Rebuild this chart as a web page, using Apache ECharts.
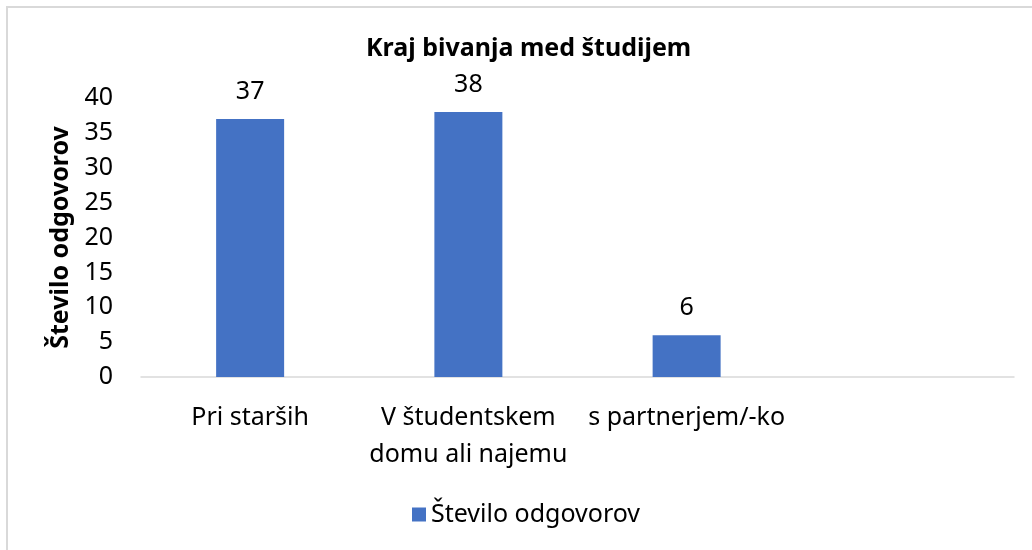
<!DOCTYPE html>
<html><head><meta charset="utf-8">
<script src="https://cdn.jsdelivr.net/npm/echarts@6/dist/echarts.min.js"></script>
<style>html,body{margin:0;padding:0;background:#fff}#c{width:1032px;height:550px}
#b{position:absolute;left:6px;top:6px;width:1040px;height:560px;border:2px solid #d9d9d9;box-sizing:border-box;pointer-events:none}</style>
</head><body><div id="c"></div><div id="b"></div>
<script>
const categories = ['Pri starših', 'V študentskem\ndomu ali najemu', 's partnerjem/-ko', ''];
const values = [37, 38, 6, null];
const seriesName = 'Število odgovorov';
const titleText = 'Kraj bivanja med študijem';
const yTicks = {min: 0, max: 40, interval: 5};
const F = "'Noto Sans',sans-serif";
const chart = echarts.init(document.getElementById('c'));
chart.setOption({
  animation: false,
  title: {text: titleText, left: 361, top: 31,
    textStyle: {fontFamily: F, fontSize: 25, fontWeight: 'bold', color: '#000'}},
  grid: {left: 141, right: 18, top: 98, bottom: 173},
  legend: {data: [seriesName], top: 497, left: 407, icon: 'rect', itemWidth: 14, itemHeight: 14, itemGap: 5,
    textStyle: {fontFamily: F, fontSize: 25, color: '#000'}},
  xAxis: {type: 'category', data: categories,
    axisLine: {lineStyle: {color: '#d9d9d9', width: 1.5}}, axisTick: {show: false},
    axisLabel: {fontFamily: F, fontSize: 25, color: '#000', margin: 22, lineHeight: 37, interval: 0}},
  yAxis: {type: 'value', min: yTicks.min, max: yTicks.max, interval: yTicks.interval,
    name: seriesName, nameLocation: 'middle', nameGap: 67, nameRotate: 90,
    nameTextStyle: {fontFamily: F, fontSize: 25, fontWeight: 'bold', color: '#000'},
    axisLine: {show: false}, axisTick: {show: false}, splitLine: {show: false},
    axisLabel: {fontFamily: F, fontSize: 25, color: '#000', margin: 28}},
  series: [{name: seriesName, type: 'bar', data: values, barWidth: 68,
    itemStyle: {color: '#4472C4'},
    label: {show: true, position: 'top', distance: 15, fontFamily: F, fontSize: 25, color: '#000'}}]
});
</script></body></html>
